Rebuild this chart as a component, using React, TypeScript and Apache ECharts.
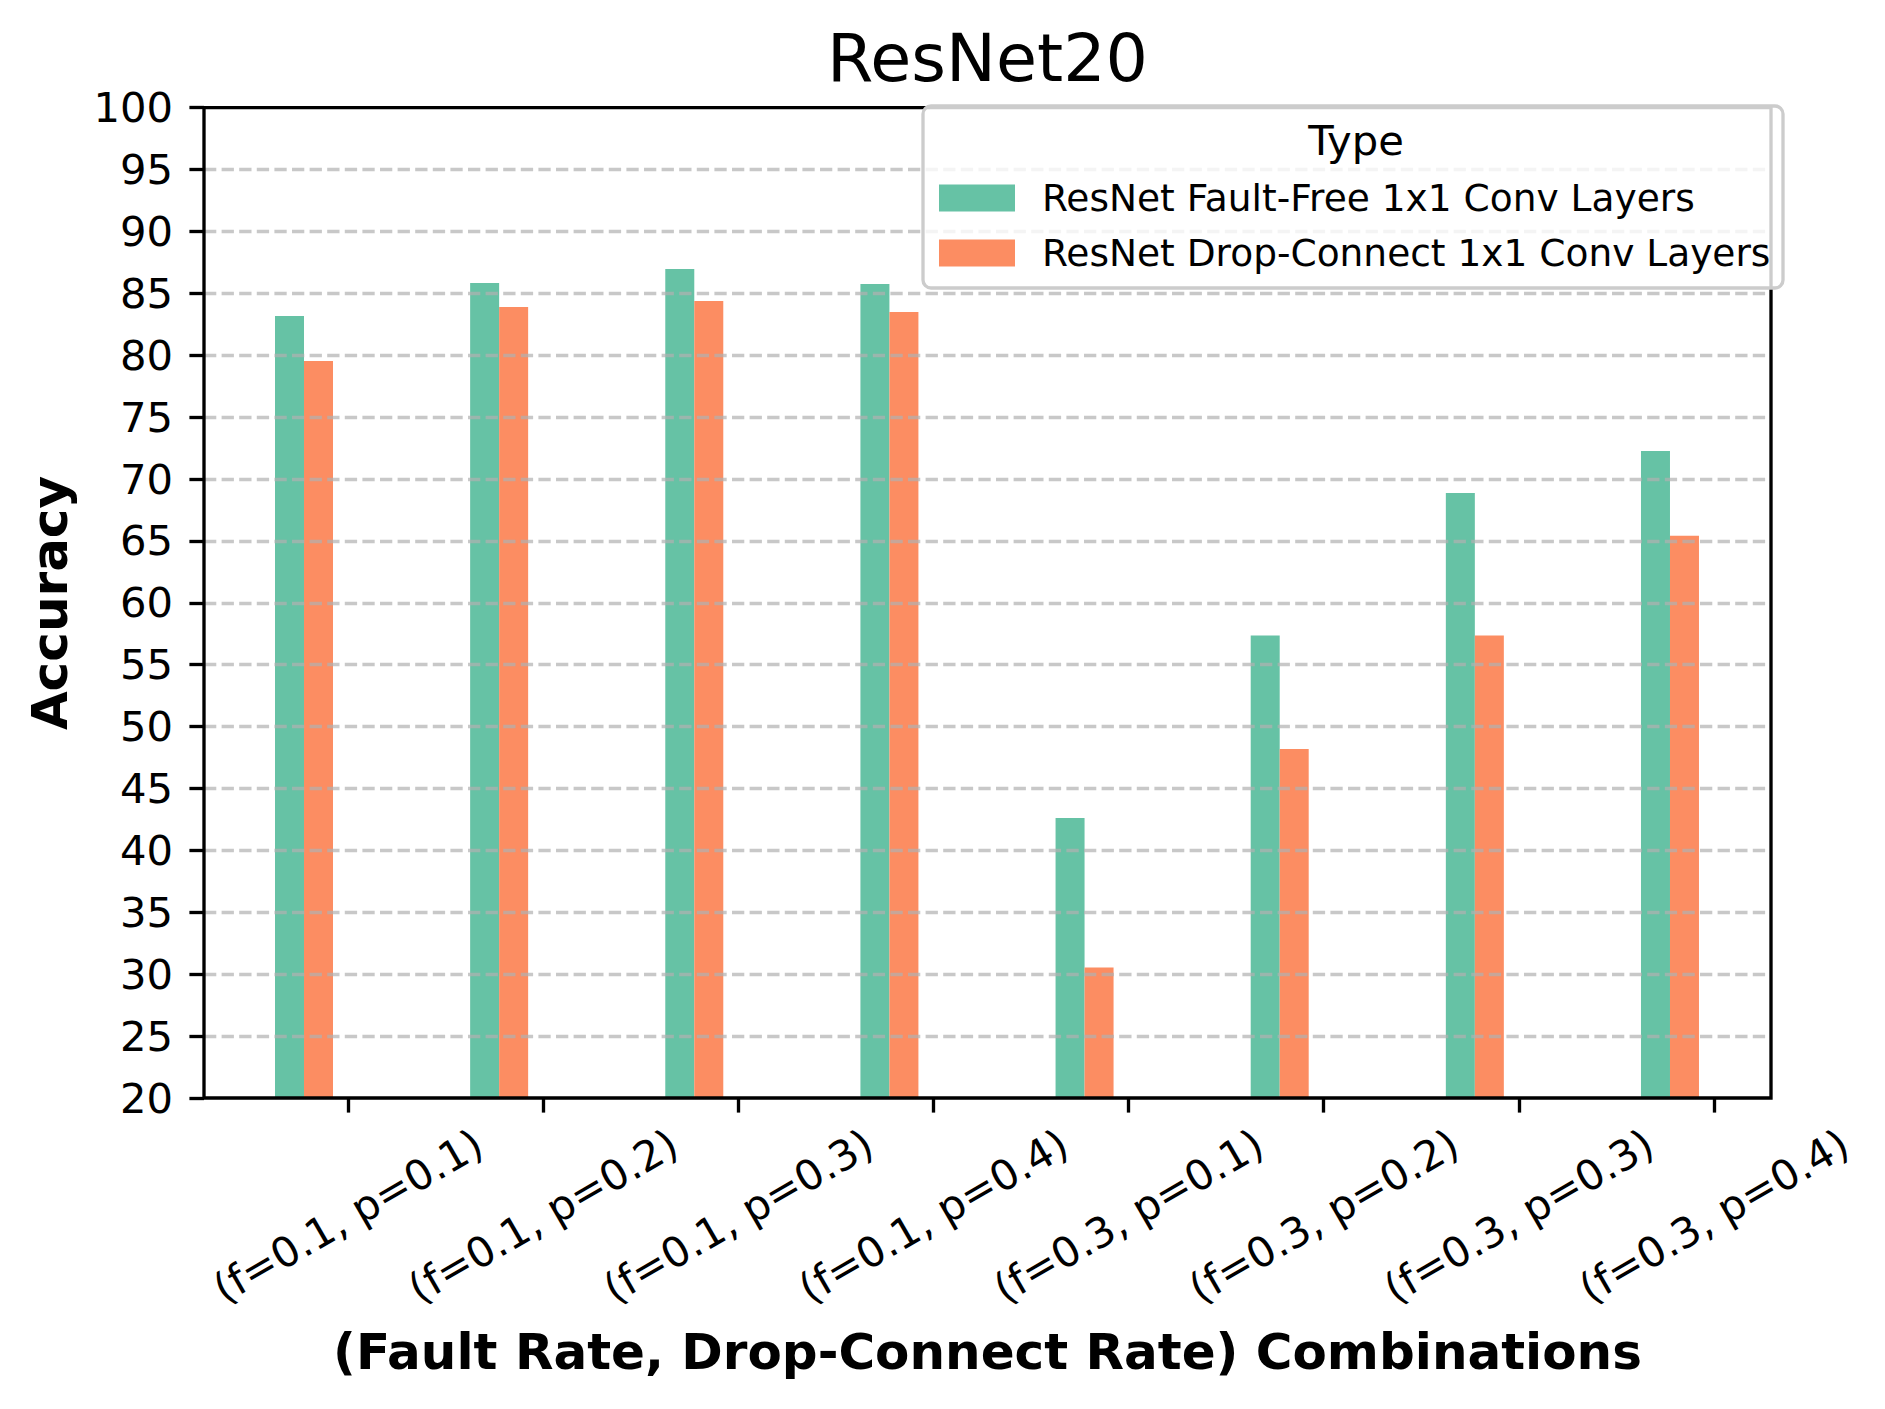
import React, { useEffect, useRef } from "react";
import * as echarts from "echarts";

const categories = [
  "(f=0.1, p=0.1)",
  "(f=0.1, p=0.2)",
  "(f=0.1, p=0.3)",
  "(f=0.1, p=0.4)",
  "(f=0.3, p=0.1)",
  "(f=0.3, p=0.2)",
  "(f=0.3, p=0.3)",
  "(f=0.3, p=0.4)",
];
const faultFree = [83.17, 85.83, 86.96, 85.75, 42.62, 57.36, 68.88, 72.27];
const dropConnect = [79.54, 83.9, 84.38, 83.49, 30.54, 48.19, 57.36, 65.42];
const seriesNames = [
  "ResNet Fault-Free 1x1 Conv Layers",
  "ResNet Drop-Connect 1x1 Conv Layers",
];
const seriesColors = ["#66c2a5", "#fc8d62"];
const yMin = 20;
const yMax = 100;
const yInterval = 5;

const W = 1885;
const H = 1409;
const FONT = "DejaVu Sans";

export default function App() {
  const ref = useRef<HTMLDivElement>(null);
  useEffect(() => {
    document.body.style.margin = "0";
    if (!ref.current) return;
    const chart = echarts.init(ref.current, undefined, { renderer: "svg" });
    const top = 107.7;
    const bottom = H - 1098;
    const frameLeft = 204;
    const frameRight = W - 1771;
    const bandW = 195.14;
    const barsLeft = 304 - bandW / 2;
    const ticksLeft = 348 - bandW / 2;
    const plotW = bandW * 8;
    const lw = 3.33;
    const legendBase = {
      orient: "vertical",
      left: 934,
      z: 20,
      icon: "rect",
      itemWidth: 76,
      itemHeight: 27,
      selectedMode: false,
      itemStyle: { borderWidth: 0 },
      textStyle: {
        fontFamily: FONT,
        fontSize: 37.5,
        color: "#000",
        padding: [0, 0, 0, 22],
      },
    };
    const option: any = {
      animation: false,
      backgroundColor: "#ffffff",
      grid: [
        {
          left: frameLeft,
          right: frameRight,
          top,
          bottom,
          show: true,
          borderColor: "#000",
          borderWidth: lw,
          backgroundColor: "transparent",
          z: 6,
        },
        { left: barsLeft, width: plotW, top, bottom },
        { left: ticksLeft, width: plotW, top, bottom },
      ],
      xAxis: [
        { type: "value", gridIndex: 0, show: false, min: 0, max: 1 },
        {
          type: "category",
          gridIndex: 1,
          data: categories,
          show: false,
        },
        {
          type: "category",
          gridIndex: 2,
          data: categories,
          axisLine: { show: false },
          axisTick: {
            show: true,
            alignWithLabel: true,
            length: 14.6,
            lineStyle: { color: "#000", width: lw },
          },
          axisLabel: {
            interval: 0,
            rotate: 30,
            align: "center",
            verticalAlign: "middle",
            margin: 118,
            fontSize: 41.7,
            fontFamily: FONT,
            color: "#000",
          },
          splitLine: { show: false },
        },
      ],
      yAxis: [
        {
          type: "value",
          gridIndex: 0,
          min: yMin,
          max: yMax,
          interval: yInterval,
          z: 5,
          axisLine: { show: false },
          axisTick: {
            show: true,
            length: 14.6,
            lineStyle: { color: "#000", width: lw },
          },
          axisLabel: {
            fontSize: 41.7,
            fontFamily: FONT,
            color: "#000",
            margin: 31,
          },
          splitLine: {
            show: true,
            showMinLine: false,
            showMaxLine: false,
            lineStyle: {
              color: "#b0b0b0",
              opacity: 0.7,
              width: lw,
              type: [12.3, 5.3],
            },
          },
        },
        { type: "value", gridIndex: 1, min: yMin, max: yMax, show: false, splitLine: { show: false } },
        { type: "value", gridIndex: 2, min: yMin, max: yMax, show: false, splitLine: { show: false } },
      ],
      legend: [
        { ...legendBase, top: 174, data: [seriesNames[0]] },
        { ...legendBase, top: 229, data: [seriesNames[1]] },
      ],
      graphic: [
        {
          type: "rect",
          z: 10,
          shape: { x: 923, y: 106, width: 860, height: 182, r: 8 },
          style: { fill: "rgba(255,255,255,0.8)", stroke: "#cccccc", lineWidth: lw },
          silent: true,
        },
        {
          type: "text",
          z: 20,
          x: 1356,
          y: 140,
          style: {
            text: "Type",
            fontFamily: FONT,
            fontSize: 41.7,
            fill: "#000",
            align: "center",
            verticalAlign: "middle",
          },
        },
        {
          type: "text",
          z: 20,
          x: 987.5,
          y: 57.5,
          style: {
            text: "ResNet20",
            fontFamily: FONT,
            fontSize: 66.7,
            fill: "#000",
            align: "center",
            verticalAlign: "middle",
          },
        },
        {
          type: "text",
          z: 20,
          x: 987.5,
          y: 1352,
          style: {
            text: "(Fault Rate, Drop-Connect Rate) Combinations",
            fontFamily: FONT,
            fontWeight: "bold",
            fontSize: 50,
            fill: "#000",
            align: "center",
            verticalAlign: "middle",
          },
        },
        {
          type: "text",
          z: 20,
          x: 50,
          y: 603,
          rotation: Math.PI / 2,
          style: {
            text: "Accuracy",
            fontFamily: FONT,
            fontWeight: "bold",
            fontSize: 50,
            fill: "#000",
            align: "center",
            verticalAlign: "middle",
          },
        },
      ],
      series: [
        {
          name: seriesNames[0],
          type: "bar",
          xAxisIndex: 1,
          yAxisIndex: 1,
          data: faultFree,
          barWidth: 29,
          barGap: "0%",
          itemStyle: { color: seriesColors[0] },
          z: 2,
        },
        {
          name: seriesNames[1],
          type: "bar",
          xAxisIndex: 1,
          yAxisIndex: 1,
          data: dropConnect,
          barWidth: 29,
          barGap: "0%",
          itemStyle: { color: seriesColors[1] },
          z: 2,
        },
      ],
    };
    chart.setOption(option);
    return () => chart.dispose();
  }, []);
  return <div ref={ref} style={{ width: W, height: H }} />;
}
